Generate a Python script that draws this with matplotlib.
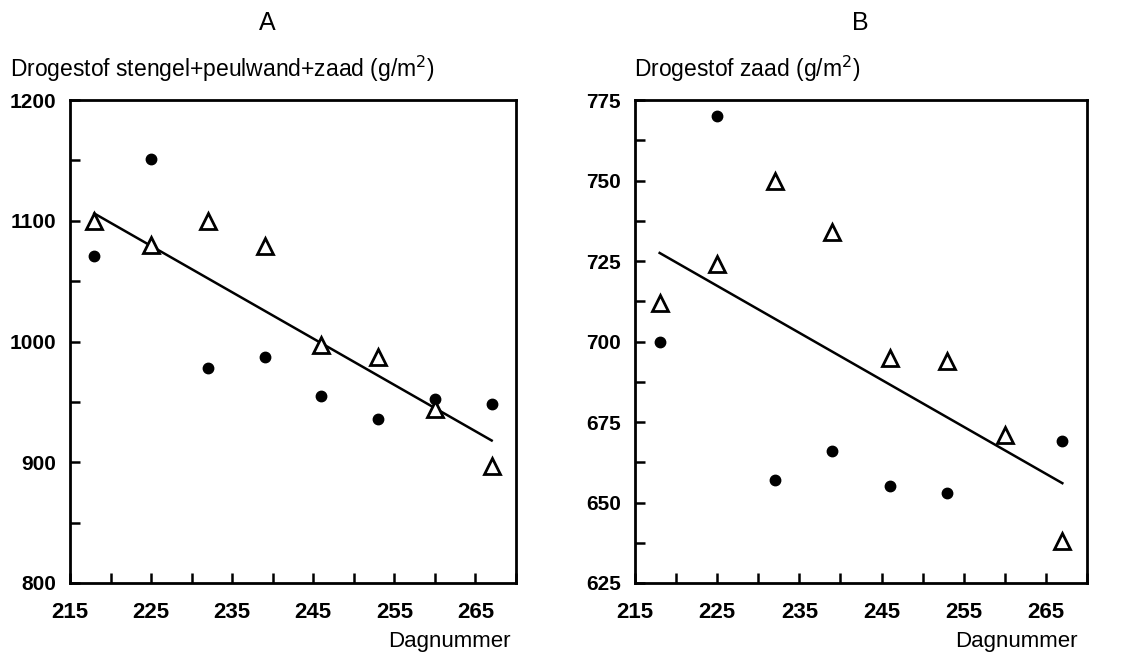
import numpy as np
import matplotlib
matplotlib.use("Agg")
import matplotlib.pyplot as plt
from matplotlib.ticker import MultipleLocator

plt.rcParams['font.family'] = ['Liberation Sans', 'DejaVu Sans']

# Data
dag = [218, 225, 232, 239, 246, 253, 260, 267]

# Panel A: drogestof stengel+peulwand+zaad
a_dots = [1071, 1151, 978, 987, 955, 936, 952, 948]
a_tri = [1100, 1080, 1100, 1079, 997, 987, 944, 897]
a_line_x = [218, 267]
a_line_y = [1106, 918]

# Panel B: drogestof zaad
b_dots = [700, 770, 657, 666, 655, 653, None, 669]
b_tri = [712, 724, 750, 734, 695, 694, 671, 638]
b_line_x = [218, 267]
b_line_y = [727.5, 656]

fig = plt.figure(figsize=(11.34, 6.55), dpi=100)
axA = fig.add_axes([70 / 1134, 1 - 583 / 655, 446 / 1134, 483 / 655])
axB = fig.add_axes([635 / 1134, 1 - 583 / 655, 452 / 1134, 483 / 655])


def style(ax, ylim, ymajor, ymin):
    ax.set_xlim(215, 270)
    ax.set_ylim(*ylim)
    ax.xaxis.set_major_locator(MultipleLocator(10))
    ax.xaxis.set_minor_locator(MultipleLocator(5))
    ax.yaxis.set_major_locator(MultipleLocator(ymajor))
    ax.yaxis.set_minor_locator(MultipleLocator(ymin))
    ax.tick_params(which='both', direction='in', top=False, right=False,
                   width=1.8, length=7)
    ax.tick_params(axis='x', pad=14, labelsize=16)
    ax.tick_params(axis='y', pad=10, labelsize=15)
    for s in ax.spines.values():
        s.set_linewidth(2)
    ax.set_xticks([215, 225, 235, 245, 255, 265])
    for lbl in ax.get_xticklabels() + ax.get_yticklabels():
        lbl.set_fontweight('bold')


# Panel A
bx = [d for d, v in zip(dag, a_dots) if v is not None]
by = [v for v in a_dots if v is not None]
axA.plot(a_line_x, a_line_y, color='black', lw=1.8, zorder=2)
axA.plot(bx, by, 'o', color='black', ms=7.5, zorder=3)
axA.plot(dag, a_tri, '^', mfc='white', mec='black', mew=2, ms=12, zorder=4)
style(axA, (800, 1200), 100, 50)

# Panel B
bx = [d for d, v in zip(dag, b_dots) if v is not None]
by = [v for v in b_dots if v is not None]
axB.plot(b_line_x, b_line_y, color='black', lw=1.8, zorder=2)
axB.plot(bx, by, 'o', color='black', ms=7.5, zorder=3)
axB.plot(dag, b_tri, '^', mfc='white', mec='black', mew=2, ms=12, zorder=4)
style(axB, (625, 775), 25, 12.5)

# Texts
fig.text(267 / 1134, 1 - 23 / 655, 'A', ha='center', va='center', fontsize=18)
fig.text(860 / 1134, 1 - 23 / 655, 'B', ha='center', va='center', fontsize=18)
fig.text(10 / 1134, 1 - 69 / 655, 'Drogestof stengel+peulwand+zaad (g/m$^2$)',
         ha='left', va='center', fontsize=16.5)
fig.text(634 / 1134, 1 - 69 / 655, 'Drogestof zaad (g/m$^2$)',
         ha='left', va='center', fontsize=16.5)
fig.text(511 / 1134, 1 - 642 / 655, 'Dagnummer', ha='right', va='center',
         fontsize=16)
fig.text(1078 / 1134, 1 - 642 / 655, 'Dagnummer', ha='right', va='center',
         fontsize=16)

fig.savefig('out.png', dpi=100)
